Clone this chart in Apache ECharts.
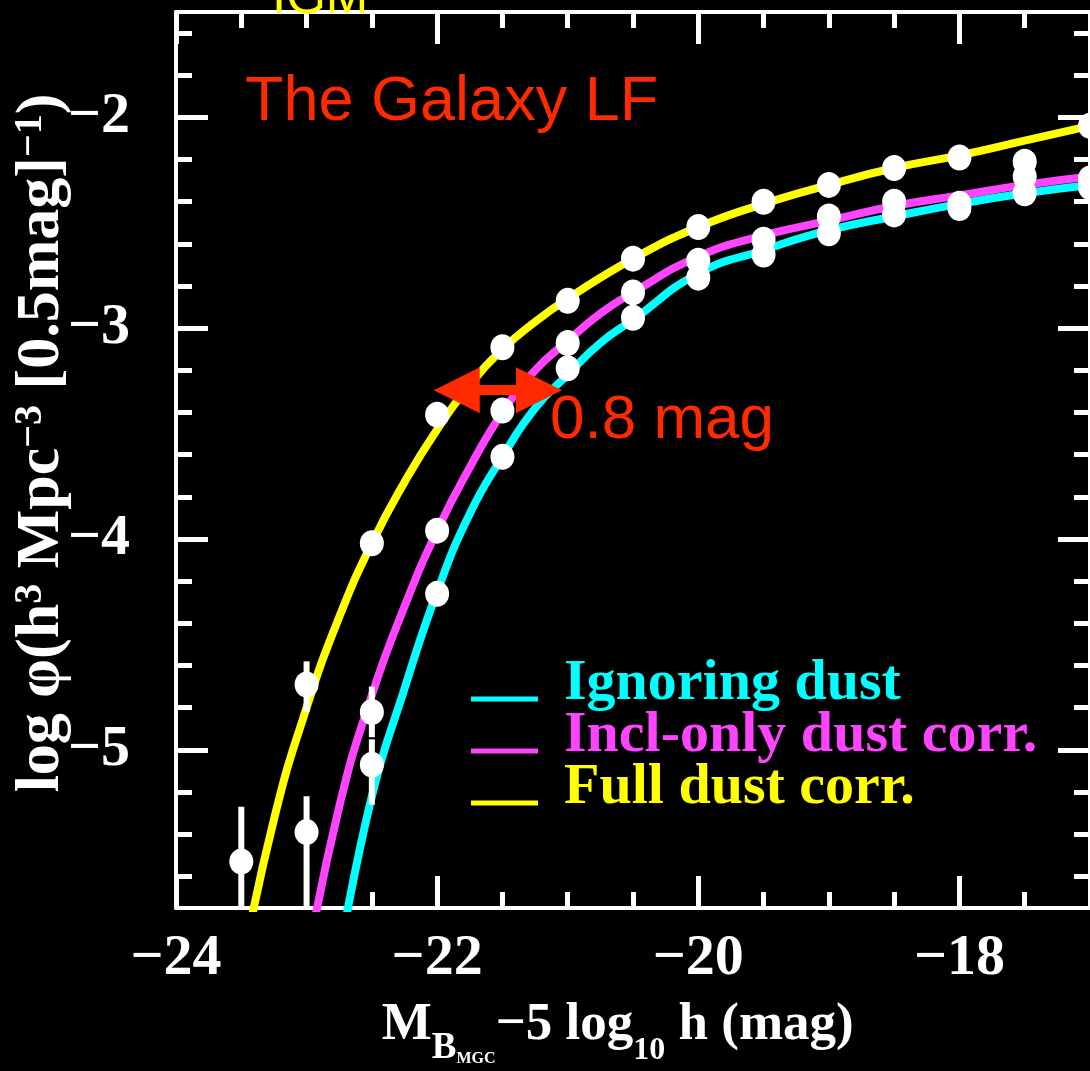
<!DOCTYPE html>
<html>
<head>
<meta charset="utf-8">
<title>The Galaxy LF</title>
<script src="https://cdn.jsdelivr.net/npm/echarts@6/dist/echarts.min.js"></script>
<style>
  html, body { margin: 0; padding: 0; background: #000; }
  #chart { width: 1090px; height: 1071px; }
</style>
</head>
<body>
<div id="chart"></div>
<script>
// binned LF points (M - 5 log h, log phi)
const fullBins = [-23.5, -23, -22.5, -22, -21.5, -21, -20.5, -20, -19.5, -19, -18.5, -18, -17.5, -17];
const fullPts = [-5.53, -4.69, -4.02, -3.41, -3.09, -2.87, -2.67, -2.52, -2.40, -2.32, -2.24, -2.19, -2.21, -2.04];
const inclBins = [-23, -22.5, -22, -21.5, -21, -20.5, -20, -19.5, -19, -18.5, -18, -17.5, -17];
const inclPts = [-5.39, -4.82, -3.96, -3.39, -3.07, -2.83, -2.68, -2.58, -2.47, -2.40, -2.41, -2.28, -2.29];
const ignBins = [-22.5, -22, -21.5, -21, -20.5, -20, -19.5, -19, -18.5, -18, -17.5, -17];
const ignPts = [-5.07, -4.26, -3.61, -3.19, -2.95, -2.76, -2.65, -2.55, -2.46, -2.43, -2.36, -2.33];

// fitted curves
const fullCurveMag = [-23.5, -23.25, -23, -22.75, -22.5, -22.25, -22, -21.75, -21.5, -21.25, -21, -20.5, -20, -19.5, -19, -18.5, -18, -17.5, -17];
const fullCurve = [-6.05, -5.33, -4.80, -4.37, -4.02, -3.73, -3.48, -3.27, -3.10, -2.97, -2.86, -2.67, -2.52, -2.41, -2.32, -2.24, -2.18, -2.11, -2.04];
const inclCurveMag = [-23, -22.75, -22.5, -22.25, -22, -21.75, -21.5, -21.25, -21, -20.75, -20.5, -20, -19.5, -19, -18.5, -18, -17.5, -17];
const inclCurve = [-6.02, -5.27, -4.74, -4.32, -3.96, -3.66, -3.40, -3.20, -3.06, -2.93, -2.83, -2.66, -2.56, -2.49, -2.42, -2.37, -2.32, -2.28];
const ignCurveMag = [-22.75, -22.5, -22.25, -22, -21.75, -21.5, -21.25, -21, -20.75, -20.5, -20, -19.5, -19, -18.5, -18, -17.5, -17];
const ignCurve = [-5.98, -5.22, -4.71, -4.25, -3.88, -3.61, -3.38, -3.22, -3.07, -2.96, -2.74, -2.63, -2.535, -2.47, -2.41, -2.36, -2.32];

// error bars of the faint-count bins
const errMag = [-23.5, -23, -23, -22.5, -22.5];
const errHi = [-5.27, -4.58, -5.22, -4.70, -4.95];
const errLo = [-6.20, -4.82, -6.20, -4.94, -5.26];

// ticks
const xMajor = [-24, -22, -20, -18];
const xMinor = [-23.5, -23, -22.5, -21.5, -21, -20.5, -19.5, -19, -18.5, -17.5];
const yMajor = [-5, -4, -3, -2];
const yMinor = [-5.6, -5.4, -5.2, -4.8, -4.6, -4.4, -4.2, -3.8, -3.6, -3.4, -3.2, -2.8, -2.6, -2.4, -2.2, -1.8, -1.6];

const CYAN = '#00ffff', MAGENTA = '#ff44ff', YELLOW = '#ffff00', RED = '#ff2a00';
const SERIF = "'Liberation Serif', 'DejaVu Serif', serif";
const SANS = "'Liberation Sans', Arial, sans-serif";

const zip = (xs, ys) => xs.map((x, i) => [x, ys[i]]);
const minus = v => String(v).replace('-', '\u2212');

function makeX(grid, pos, ticks, len, labels, extra) {
  return Object.assign({
    type: 'value', gridIndex: grid, position: pos, min: -24, max: -17,
    axisLine: { show: true, onZero: false, lineStyle: { color: '#fff', width: 4 } },
    axisTick: { show: true, inside: true, length: len, customValues: ticks, lineStyle: { color: '#fff', width: 5 } },
    axisLabel: labels ? {
      show: true, customValues: ticks, formatter: minus, margin: 22,
      color: '#fff', fontFamily: SERIF, fontWeight: 'bold', fontSize: 58
    } : { show: false },
    splitLine: { show: false }
  }, extra || {});
}
function makeY(grid, pos, ticks, len, labels, extra) {
  return Object.assign({
    type: 'value', gridIndex: grid, position: pos, min: -5.75, max: -1.5,
    axisLine: { show: true, onZero: false, lineStyle: { color: '#fff', width: 4 } },
    axisTick: { show: true, inside: true, length: len, customValues: ticks, lineStyle: { color: '#fff', width: 5 } },
    axisLabel: labels ? {
      show: true, customValues: ticks, formatter: minus, margin: 46,
      color: '#fff', fontFamily: SERIF, fontWeight: 'bold', fontSize: 58
    } : { show: false },
    splitLine: { show: false }
  }, extra || {});
}

const chart = echarts.init(document.getElementById('chart'));

const pointStyle = { color: '#fff', opacity: 1 };
const bold = { fontFamily: SERIF, fontWeight: 'bold', color: '#fff' };

const option = {
  backgroundColor: '#000',
  animation: false,
  grid: [
    { left: 176, right: 0, top: 12, bottom: 163, containLabel: false, outerBoundsMode: 'none' },
    { left: 176, right: 0, top: 12, bottom: 163, containLabel: false, outerBoundsMode: 'none' }
  ],
  xAxis: [
    makeX(0, 'bottom', xMajor, 32, true, {
      name: '{m|M}{sub|B}{ss|MGC}{m|\u22125 log}{sub2|10}{m| h (mag)}{sp| }',
      nameLocation: 'middle', nameGap: 91, nameMoveOverlap: false,
      nameTextStyle: {
        color: '#fff', padding: [0, 30, 0, 0],
        rich: {
          m: Object.assign({ fontSize: 53, lineHeight: 53, verticalAlign: 'top' }, bold),
          sub: Object.assign({ fontSize: 37, lineHeight: 37, verticalAlign: 'bottom' }, bold),
          sub2: Object.assign({ fontSize: 32, lineHeight: 32, verticalAlign: 'bottom' }, bold),
          ss: Object.assign({ fontSize: 16, lineHeight: 16, verticalAlign: 'bottom' }, bold),
          sp: { fontSize: 2, lineHeight: 68, verticalAlign: 'bottom' }
        }
      }
    }),
    makeX(0, 'bottom', xMinor, 16, false, { axisLine: { show: false } }),
    makeX(1, 'top', xMajor, 32, false),
    makeX(1, 'top', xMinor, 16, false, { axisLine: { show: false } })
  ],
  yAxis: [
    makeY(0, 'left', yMajor, 32, true, {
      name: '{m|log \u03c6(h}{sup|3}{m| Mpc}{sup|\u22123}{m| [0.5mag]}{sup|\u22121}{m|)}',
      nameLocation: 'middle', nameGap: 103, nameRotate: 90, nameMoveOverlap: false,
      nameTextStyle: {
        color: '#fff', padding: [0, 0, 0, 34],
        rich: {
          m: Object.assign({ fontSize: 62, lineHeight: 62, verticalAlign: 'bottom' }, bold),
          sup: Object.assign({ fontSize: 40, lineHeight: 40, verticalAlign: 'top' }, bold)
        }
      }
    }),
    makeY(0, 'left', yMinor, 16, false, { axisLine: { show: false } }),
    makeY(1, 'right', yMajor, 32, false),
    makeY(1, 'right', yMinor, 16, false, { axisLine: { show: false } })
  ],
  legend: {
    orient: 'vertical', left: 471, top: 655, itemGap: -6, padding: 0,
    itemWidth: 88, itemHeight: 49,
    icon: 'path://M0,0M0,37L67,37L67,42L0,42ZM88,49',
    selectedMode: false,
    textStyle: { fontFamily: SERIF, fontWeight: 'bold', fontSize: 58 },
    data: [
      { name: 'Ignoring dust', textStyle: { color: CYAN } },
      { name: 'Incl-only dust corr.', textStyle: { color: MAGENTA } },
      { name: 'Full dust corr.', textStyle: { color: YELLOW } }
    ]
  },
  series: [
    {
      name: 'Full dust corr.', type: 'line', data: zip(fullCurveMag, fullCurve),
      color: YELLOW, showSymbol: false, smooth: 0.5,
      lineStyle: { width: 8, color: YELLOW }, z: 2,
      markLine: {
        silent: true, symbol: ['triangle', 'triangle'], symbolSize: 46,
        label: { show: false },
        lineStyle: { color: RED, width: 10, type: 'solid' },
        data: [[{ coord: [-21.85, -3.294] }, { coord: [-21.22, -3.294] }]]
      }
    },
    {
      name: 'Incl-only dust corr.', type: 'line', data: zip(inclCurveMag, inclCurve),
      color: MAGENTA, showSymbol: false, smooth: 0.5,
      lineStyle: { width: 8, color: MAGENTA }, z: 2
    },
    {
      name: 'Ignoring dust', type: 'line', data: zip(ignCurveMag, ignCurve),
      color: CYAN, showSymbol: false, smooth: 0.5,
      lineStyle: { width: 8, color: CYAN }, z: 2
    },
    {
      name: 'errors', type: 'custom', clip: true, z: 3,
      data: errMag.map((m, i) => [m, errLo[i], errHi[i]]),
      encode: { x: 0, y: [1, 2] },
      renderItem: (params, api) => {
        const a = api.coord([api.value(0), api.value(2)]);
        const b = api.coord([api.value(0), api.value(1)]);
        return {
          type: 'line',
          shape: { x1: a[0], y1: a[1], x2: b[0], y2: b[1] },
          style: { stroke: '#fff', lineWidth: 6 }
        };
      }
    },
    {
      name: 'full pts', type: 'scatter', data: zip(fullBins, fullPts), clip: false,
      symbol: 'circle', symbolSize: [24, 26], itemStyle: pointStyle, z: 4
    },
    {
      name: 'incl pts', type: 'scatter', data: zip(inclBins, inclPts), clip: false,
      symbol: 'circle', symbolSize: [24, 26], itemStyle: pointStyle, z: 4
    },
    {
      name: 'ign pts', type: 'scatter', data: zip(ignBins, ignPts), clip: false,
      symbol: 'circle', symbolSize: [24, 26], itemStyle: pointStyle, z: 4
    }
  ],
  graphic: [
    {
      type: 'text', x: 272, y: -1, z: 10,
      style: { text: 'IGM', fill: YELLOW, font: '51px ' + SANS, textAlign: 'left', textVerticalAlign: 'middle', verticalAlign: 'middle' }
    },
    {
      type: 'text', x: 245, y: 103, z: 10,
      style: { text: 'The Galaxy LF', fill: RED, font: '63px ' + SANS, textAlign: 'left', textVerticalAlign: 'middle', verticalAlign: 'middle' }
    },
    {
      type: 'text', x: 550, y: 421, z: 10,
      style: { text: '0.8 mag', fill: RED, font: '62px ' + SANS, textAlign: 'left', textVerticalAlign: 'middle', verticalAlign: 'middle' }
    }
  ]
};

chart.setOption(option);
</script>
</body>
</html>
